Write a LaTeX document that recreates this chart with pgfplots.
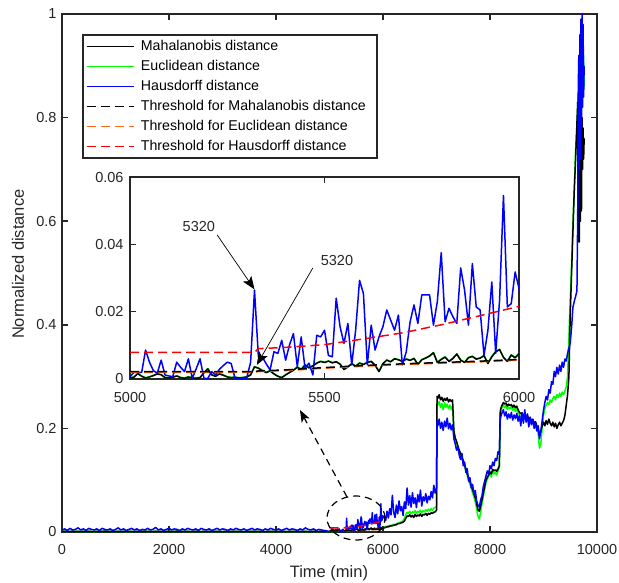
\documentclass[border=0pt]{standalone}
\usepackage{fontspec}
\setmainfont{Liberation Sans}
\usepackage{pgfplots}
\pgfplotsset{compat=1.18}
\usepackage{pgfplotstable}
\usetikzlibrary{arrows.meta}
\definecolor{axgray}{RGB}{38,38,38}
\definecolor{thorange}{RGB}{255,102,26}
\definecolor{mgreen}{RGB}{0,255,0}

\pgfplotstableread{
t H E M
0 0.004 0.001 0.001
50 0.006 0.0015 0.001
100 0.003 0.001 0.0012
150 0.007 0.0012 0.0009
200 0.004 0.002 0.0015
250 0.005 0.001 0.001
300 0.008 0.0013 0.0012
350 0.004 0.0009 0.0008
400 0.006 0.0014 0.0013
450 0.003 0.001 0.001
500 0.007 0.0016 0.0014
550 0.005 0.0011 0.0009
600 0.004 0.0008 0.001
650 0.006 0.0013 0.0012
700 0.003 0.001 0.0009
750 0.007 0.0012 0.0011
800 0.005 0.0024 0.0015
850 0.004 0.001 0.001
900 0.006 0.0013 0.0012
950 0.003 0.0009 0.0008
1000 0.005 0.0011 0.001
1050 0.008 0.0015 0.0013
1100 0.004 0.001 0.0009
1150 0.006 0.0012 0.0011
1200 0.003 0.0009 0.001
1250 0.005 0.0013 0.0012
1300 0.007 0.0011 0.001
1350 0.004 0.001 0.0009
1400 0.006 0.0014 0.0012
1450 0.003 0.0009 0.0008
1500 0.005 0.0012 0.0011
1550 0.004 0.0021 0.0014
1600 0.007 0.001 0.001
1650 0.004 0.0012 0.0011
1700 0.005 0.0009 0.0009
1750 0.009 0.0016 0.0014
1800 0.004 0.001 0.001
1850 0.006 0.0013 0.0012
1900 0.003 0.001 0.0009
1950 0.005 0.0011 0.001
2000 0.007 0.0014 0.0013
2050 0.004 0.001 0.0009
2100 0.006 0.0012 0.0011
2150 0.005 0.0023 0.0015
2200 0.003 0.0009 0.0008
2250 0.006 0.0013 0.0012
2300 0.004 0.001 0.001
2350 0.007 0.0012 0.0011
2400 0.005 0.0009 0.0009
2450 0.004 0.0013 0.0012
2500 0.006 0.001 0.001
2550 0.003 0.0012 0.0011
2600 0.007 0.0009 0.0008
2650 0.005 0.0014 0.0013
2700 0.004 0.001 0.001
2750 0.006 0.0012 0.0011
2800 0.003 0.0009 0.0009
2850 0.005 0.0013 0.0012
2900 0.007 0.001 0.001
2950 0.004 0.0012 0.0011
3000 0.006 0.0009 0.0008
3050 0.005 0.0013 0.0012
3100 0.003 0.001 0.001
3150 0.006 0.0012 0.0011
3200 0.004 0.0009 0.0009
3250 0.007 0.0014 0.0013
3300 0.005 0.001 0.001
3350 0.004 0.0012 0.0011
3400 0.006 0.0009 0.0008
3450 0.003 0.0013 0.0012
3500 0.005 0.001 0.001
3550 0.007 0.0012 0.0011
3600 0.004 0.0009 0.0009
3650 0.006 0.0013 0.0012
3700 0.005 0.001 0.001
3750 0.003 0.0012 0.0011
3800 0.006 0.0009 0.0008
3850 0.004 0.0013 0.0012
3900 0.007 0.001 0.001
3950 0.005 0.0012 0.0011
4000 0.004 0.0009 0.0009
4050 0.006 0.0014 0.0013
4100 0.003 0.001 0.001
4150 0.005 0.0012 0.0011
4200 0.007 0.0009 0.0008
4250 0.004 0.0013 0.0012
4300 0.006 0.001 0.001
4350 0.005 0.0012 0.0011
4400 0.003 0.0009 0.0009
4450 0.006 0.0013 0.0012
4500 0.004 0.001 0.001
4550 0.008 0.0012 0.0011
4600 0.005 0.0009 0.0008
4650 0.004 0.0013 0.0012
4700 0.006 0.001 0.001
4750 0.003 0.0012 0.0011
4800 0.005 0.0009 0.0009
4850 0.004 0.0013 0.0012
4900 0.003 0.001 0.001
4950 0.002 0.0009 0.0008
5000 0.0007 0.0004 0.0003
5010 0.002 0.0007 0.0005
5020 0.002 0.0017 0.0016
5030 0.002 0.0009 0.0008
5040 0.0086 0.0004 0.0003
5050 0.005 0.0007 0.0006
5060 0.0025 0.0011 0.001
5070 0.0017 0.0016 0.0015
5080 0.0056 0.0012 0.0013
5090 0.0012 0.0005 0.0004
5100 0.0009 0.0004 0.0003
5110 0.0007 0.0006 0.0005
5120 0.005 0.001 0.0009
5130 0.0035 0.0005 0.0004
5140 0.0022 0.0003 0.0002
5150 0.006 0.0007 0.0006
5160 0.0002 0.0004 0.0003
5170 0.003 0.0003 0.0002
5180 0.006 0.0005 0.0004
5190 0.0002 0.0019 0.0018
5200 0.0002 0.0031 0.003
5210 0.0022 0.0013 0.0012
5220 0.0012 0.0009 0.0008
5230 0.0029 0.0016 0.0015
5240 0.004 0.0012 0.0011
5250 0.005 0.0007 0.0006
5260 0.0046 0.0005 0.0004
5270 0.0002 0.0006 0.0005
5280 0.0002 0.0004 0.0003
5290 0.0002 0.0005 0.0004
5300 0.0003 0.0007 0.0006
5310 0.005 0.0013 0.0012
5320 0.0264 0.0037 0.0036
5330 0.0066 0.0033 0.0032
5340 0.0066 0.0026 0.0025
5350 0.0045 0.002 0.0019
5360 0.0027 0.0025 0.0024
5370 0.0081 0.0016 0.0015
5380 0.0076 0.0009 0.0008
5390 0.0115 0.0005 0.0004
5400 0.0056 0.0013 0.0012
5410 0.0101 0.002 0.0019
5420 0.0135 0.0027 0.0026
5430 0.0037 0.0036 0.0035
5440 0.0125 0.0029 0.0028
5450 0.0032 0.0043 0.0042
5460 0.0047 0.0034 0.0033
5470 0.0012 0.004 0.0039
5480 0.013 0.0048 0.0047
5490 0.0125 0.0053 0.0052
5500 0.0145 0.005 0.0049
5510 0.007 0.0054 0.0053
5520 0.0066 0.0049 0.0048
5530 0.024 0.0052 0.0051
5540 0.0155 0.0045 0.0044
5550 0.0106 0.0029 0.0028
5560 0.0165 0.0037 0.0036
5570 0.0042 0.0046 0.0045
5580 0.0145 0.0039 0.0038
5590 0.0293 0.0048 0.0047
5600 0.0254 0.0044 0.0043
5610 0.0042 0.005 0.0049
5620 0.016 0.0053 0.0052
5630 0.0086 0.0042 0.0041
5640 0.0125 0.0023 0.0022
5650 0.0155 0.0046 0.0045
5660 0.0205 0.0057 0.0056
5670 0.0175 0.0052 0.0051
5680 0.0145 0.0061 0.006
5690 0.019 0.0058 0.0057
5700 0.0042 0.0053 0.0052
5710 0.008 0.006 0.0059
5720 0.017 0.0056 0.0055
5730 0.022 0.0062 0.0061
5740 0.0165 0.0044 0.0043
5750 0.025 0.0058 0.0057
5760 0.025 0.0063 0.0062
5770 0.025 0.0069 0.0068
5780 0.016 0.0079 0.0078
5790 0.023 0.005 0.0049
5800 0.0375 0.0059 0.0058
5810 0.017 0.0066 0.0065
5820 0.021 0.0053 0.0052
5830 0.0185 0.0062 0.0061
5840 0.0165 0.0075 0.0074
5850 0.033 0.0057 0.0056
5860 0.0264 0.005 0.0049
5870 0.016 0.0064 0.0063
5880 0.0343 0.0068 0.0067
5890 0.0214 0.006 0.0059
5900 0.0205 0.0063 0.0062
5910 0.007 0.007 0.0069
5920 0.0145 0.0047 0.0046
5930 0.0288 0.0067 0.0066
5940 0.0076 0.0082 0.0081
5950 0.0234 0.0089 0.0087
5960 0.0545 0.0065 0.0064
5970 0.0214 0.0053 0.0052
5980 0.0224 0.0072 0.0071
5990 0.0318 0.0064 0.0063
6000 0.0269 0.0076 0.0075
6025 0.031 0.009 0.008
6050 0.022 0.011 0.009
6075 0.040 0.010 0.010
6100 0.027 0.012 0.010
6125 0.045 0.013 0.011
6150 0.033 0.012 0.012
6175 0.071 0.014 0.012
6200 0.038 0.015 0.013
6225 0.028 0.014 0.014
6250 0.052 0.016 0.014
6275 0.035 0.017 0.016
6300 0.060 0.018 0.016
6325 0.041 0.019 0.017
6350 0.049 0.020 0.018
6375 0.032 0.022 0.019
6400 0.058 0.026 0.021
6425 0.045 0.034 0.026
6450 0.085 0.038 0.031
6475 0.052 0.036 0.030
6500 0.070 0.040 0.033
6525 0.048 0.035 0.029
6550 0.076 0.039 0.032
6575 0.055 0.037 0.028
6600 0.066 0.041 0.034
6625 0.047 0.036 0.030
6650 0.072 0.040 0.033
6675 0.058 0.038 0.031
6700 0.081 0.042 0.035
6725 0.050 0.037 0.030
6750 0.068 0.041 0.034
6775 0.060 0.039 0.033
6800 0.074 0.043 0.036
6825 0.056 0.040 0.032
6850 0.069 0.044 0.036
6875 0.062 0.041 0.034
6900 0.078 0.045 0.037
6925 0.066 0.042 0.036
6950 0.090 0.046 0.038
6975 0.075 0.047 0.039
7000 0.085 0.050 0.042
7010 0.215 0.250 0.262
7025 0.205 0.245 0.258
7050 0.218 0.252 0.265
7075 0.200 0.240 0.255
7100 0.212 0.248 0.260
7125 0.196 0.236 0.252
7150 0.214 0.250 0.258
7175 0.203 0.241 0.254
7200 0.220 0.247 0.259
7225 0.199 0.238 0.251
7250 0.210 0.245 0.256
7275 0.197 0.237 0.252
7300 0.207 0.243 0.255
7325 0.180 0.190 0.195
7350 0.170 0.178 0.182
7375 0.158 0.170 0.175
7400 0.165 0.160 0.166
7425 0.148 0.155 0.158
7450 0.140 0.150 0.152
7475 0.152 0.140 0.145
7500 0.128 0.135 0.138
7525 0.135 0.125 0.130
7550 0.115 0.118 0.122
7575 0.122 0.110 0.112
7600 0.098 0.100 0.105
7625 0.105 0.092 0.098
7650 0.085 0.085 0.090
7675 0.092 0.075 0.082
7700 0.072 0.068 0.074
7725 0.080 0.058 0.066
7750 0.060 0.045 0.055
7775 0.052 0.030 0.043
7800 0.048 0.025 0.040
7825 0.062 0.038 0.050
7850 0.070 0.055 0.062
7875 0.088 0.068 0.075
7900 0.098 0.082 0.088
7925 0.108 0.095 0.100
7950 0.118 0.102 0.106
7975 0.112 0.108 0.110
8000 0.128 0.112 0.116
8025 0.122 0.106 0.112
8050 0.135 0.118 0.121
8075 0.128 0.112 0.118
8100 0.142 0.115 0.120
8125 0.138 0.110 0.117
8150 0.155 0.118 0.122
8175 0.150 0.125 0.128
8190 0.215 0.225 0.230
8200 0.222 0.232 0.238
8225 0.230 0.240 0.245
8250 0.236 0.246 0.250
8275 0.224 0.240 0.247
8300 0.232 0.244 0.249
8325 0.218 0.236 0.243
8350 0.228 0.241 0.247
8375 0.220 0.238 0.244
8400 0.231 0.242 0.246
8425 0.216 0.235 0.241
8450 0.226 0.240 0.245
8475 0.219 0.233 0.240
8500 0.229 0.238 0.243
8525 0.214 0.229 0.236
8550 0.225 0.226 0.231
8575 0.205 0.222 0.228
8600 0.230 0.225 0.230
8625 0.210 0.218 0.224
8650 0.236 0.220 0.226
8675 0.212 0.214 0.221
8700 0.228 0.218 0.225
8725 0.203 0.211 0.218
8750 0.222 0.215 0.220
8775 0.207 0.210 0.216
8800 0.218 0.212 0.217
8825 0.200 0.205 0.210
8850 0.212 0.208 0.213
8875 0.195 0.198 0.205
8900 0.205 0.190 0.200
8925 0.180 0.162 0.185
8950 0.195 0.170 0.195
8975 0.215 0.200 0.205
9000 0.235 0.225 0.212
9025 0.250 0.238 0.205
9050 0.262 0.245 0.215
9075 0.255 0.250 0.208
9100 0.275 0.246 0.218
9125 0.268 0.255 0.210
9150 0.290 0.250 0.205
9175 0.285 0.258 0.212
9200 0.310 0.262 0.203
9225 0.300 0.255 0.210
9250 0.318 0.265 0.200
9275 0.305 0.260 0.207
9300 0.322 0.268 0.212
9325 0.310 0.262 0.205
9350 0.328 0.270 0.210
9375 0.318 0.265 0.215
9400 0.334 0.272 0.225
9425 0.330 0.280 0.245
9450 0.345 0.300 0.265
9475 0.355 0.380 0.300
9500 0.365 0.450 0.420
9525 0.395 0.520 0.500
9550 0.434 0.600 0.580
9575 0.445 0.660 0.660
9600 0.455 0.740 0.720
9625 0.465 0.780 0.790
9640 0.620 0.830 0.830
9650 0.860 0.850 0.560
9660 0.920 0.800 0.780
9670 0.700 0.880 0.560
9680 0.960 0.820 0.800
9690 0.720 0.900 0.600
9700 0.990 0.860 0.760
9710 0.780 0.940 0.620
9720 1.000 0.900 0.800
9730 0.820 0.960 0.700
9740 0.980 0.880 0.780
9750 0.840 0.920 0.720
9760 0.900 0.860 0.760
}\datatbl

\pgfplotstableread{
t TM TE TH
5000 0.0022 0.0020 0.0079
5320 0.0022 0.0020 0.0079
5330 0.0024 0.0022 0.0090
5400 0.0027 0.0025 0.0094
5500 0.0034 0.0032 0.0102
5600 0.0040 0.0038 0.0119
5700 0.0045 0.0043 0.0137
5800 0.0049 0.0047 0.0161
5900 0.0053 0.0051 0.0188
6000 0.0058 0.0056 0.0216
}\thrtbl

\pgfplotsset{
  mystyle/.style={
    scale only axis,
    tick align=inside,
    major tick length=6pt,
    tick style={axgray, line width=1.5pt},
    axis line style={axgray, line width=2.8pt},
    tick label style={font=\fontsize{14.5}{16}\selectfont, text=axgray,
      /pgf/number format/assume math mode=true, /pgf/number format/1000 sep={}},
    scaled x ticks=false, scaled y ticks=false,
    every axis plot/.append style={line join=round},
  },
}
\tikzset{dsh/.style={dash pattern=on 9pt off 5pt}}

\begin{document}
\begin{tikzpicture}
\useasboundingbox (-62pt,-50pt) rectangle (557pt,532pt);
\begin{axis}[mystyle,
  at={(0pt,0pt)}, anchor=south west,
  width=535pt, height=518pt,
  xmin=0, xmax=10000, ymin=0, ymax=1,
  xtick={0,2000,4000,6000,8000,10000},
  ytick={0,0.2,0.4,0.6,0.8,1},
  yticklabels={0,0.2,0.4,0.6,0.8,1},
  xticklabel shift=9pt, yticklabel shift=2pt,
  clip mode=individual,
  xlabel={Time (min)}, ylabel={Normalized distance},
  label style={font=\fontsize{16.5}{19}\selectfont, text=axgray},
  xlabel style={at={(axis description cs:0.499,-0.079)}, anchor=center},
  ylabel style={at={(axis description cs:-0.0822,0.517)}, anchor=center, rotate=0},
  legend cell align=left,
  legend image code/.code={\draw[#1] (0pt,0pt) -- (47pt,0pt);},
  legend style={at={(0.0374,0.9614)}, anchor=north west, draw=axgray, line width=1.8pt,
    fill=white, font=\fontsize{14.2}{16}\selectfont, inner xsep=3pt, inner ysep=3pt,
    row sep=3pt,
    nodes={inner sep=1.5pt, text height=11pt, text depth=3pt},
    /tikz/every odd column/.append style={column sep=5pt}},
]
\addplot[mgreen, line width=1.5pt, forget plot] table[x=t, y=E] {\datatbl};
\addplot[black, line width=1.5pt, forget plot] table[x=t, y=M] {\datatbl};
\addplot[blue, line width=1.5pt, forget plot] table[x=t, y=H] {\datatbl};
\addplot[draw=thorange, line width=1.5pt, dsh, forget plot] table[x=t, y=TE] {\thrtbl};
\addplot[black, line width=1.5pt, dsh, forget plot] table[x=t, y=TM] {\thrtbl};
\addplot[red, line width=1.5pt, dsh, forget plot] table[x=t, y=TH] {\thrtbl};
\addlegendimage{draw=black, line width=1.5pt}
\addlegendentry{Mahalanobis distance}
\addlegendimage{draw=mgreen, line width=1.5pt}
\addlegendentry{Euclidean distance}
\addlegendimage{draw=blue, line width=1.5pt}
\addlegendentry{Hausdorff distance}
\addlegendimage{draw=black, line width=1.5pt, dsh}
\addlegendentry{Threshold for Mahalanobis distance\hspace*{7pt}}
\addlegendimage{draw=thorange, line width=1.5pt, dsh}
\addlegendentry{Threshold for Euclidean distance}
\addlegendimage{draw=red, line width=1.5pt, dsh}
\addlegendentry{Threshold for Hausdorff distance}
\draw[black, line width=1.2pt, dash pattern=on 7pt off 5pt] (axis cs:5495,0.027) ellipse [x radius=29pt, y radius=22pt];
\draw[black, line width=1.2pt, dash pattern=on 7pt off 5pt, -{Stealth[length=12pt,width=9pt,inset=3pt]}] (axis cs:5327,0.0676) -- (axis cs:4448,0.2355);
\end{axis}

\begin{axis}[mystyle,
  at={(68pt,153pt)}, anchor=south west,
  width=389pt, height=202pt,
  xmin=5000, xmax=6000, ymin=0, ymax=0.06,
  xtick={5000,5500,6000}, xticklabels={5000,5500,6000},
  ytick={0,0.02,0.04,0.06}, yticklabels={0,0.02,0.04,0.06},
  xticklabel shift=10pt, yticklabel shift=3pt,
  axis background/.style={fill=white},
  clip mode=individual,
]
\addplot[mgreen, line width=1.5pt] table[x=t, y=E] {\datatbl};
\addplot[black, line width=1.5pt] table[x=t, y=M] {\datatbl};
\addplot[blue, line width=1.5pt] table[x=t, y=H] {\datatbl};
\addplot[draw=thorange, line width=1.5pt, dsh] table[x=t, y=TE] {\thrtbl};
\addplot[black, line width=1.5pt, dsh] table[x=t, y=TM] {\thrtbl};
\addplot[red, line width=1.5pt, dsh] table[x=t, y=TH] {\thrtbl};
\node[font=\fontsize{14.5}{16}\selectfont, text=axgray] at (axis cs:5177,0.0454) {5320};
\draw[black, line width=0.7pt, -{Stealth[length=13pt,width=10pt,inset=3pt]}] (axis cs:5224,0.0428) -- (axis cs:5320,0.0266);
\node[font=\fontsize{14.5}{16}\selectfont, text=axgray] at (axis cs:5532,0.0353) {5320};
\draw[black, line width=0.7pt, -{Stealth[length=13pt,width=10pt,inset=3pt]}] (axis cs:5470,0.033) -- (axis cs:5326,0.0042);
\end{axis}
\end{tikzpicture}
\end{document}
